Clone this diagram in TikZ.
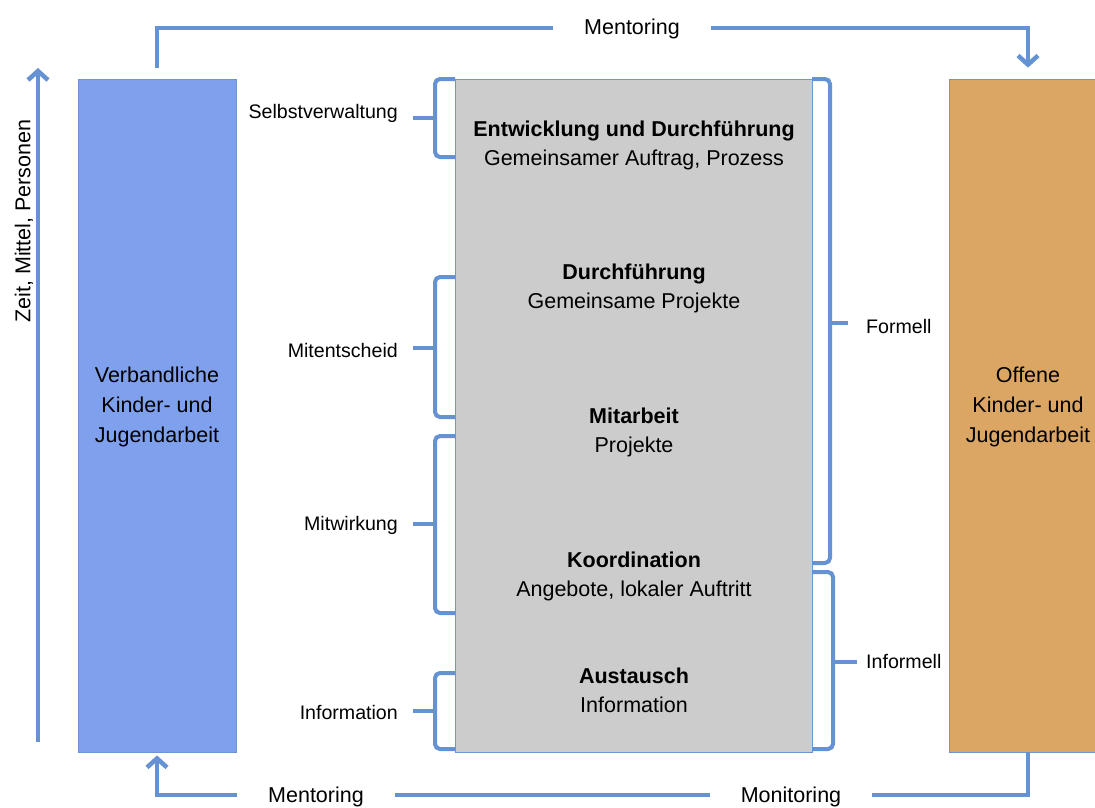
\documentclass[tikz,border=0pt]{standalone}
\usepackage{fontspec}
\setmainfont{Liberation Sans}
\usetikzlibrary{arrows.meta}
\definecolor{lnblue}{RGB}{100,146,210}
\definecolor{boxblue}{RGB}{127,160,236}
\definecolor{boxorange}{RGB}{219,165,99}
\definecolor{boxgray}{RGB}{204,204,204}
\definecolor{edgeblue}{RGB}{110,150,215}
\begin{document}
\begin{tikzpicture}[x=1pt,y=-1pt,
  conn/.style={draw=lnblue, line width=4.5pt},
  barbend/.style={-{Straight Barb[length=9pt,width=20pt]}},
  bracepath/.style={draw=lnblue, line width=4pt, rounded corners=5pt},
  col/.style={draw=edgeblue, line width=0.8pt, minimum height=673pt, inner sep=0pt},
  big/.style={font=\fontsize{21.5}{30}\selectfont, align=center, text=black, inner sep=0pt},
  blk/.style={font=\fontsize{21.5}{29}\selectfont, align=center, text=black, inner sep=0pt},
  small/.style={font=\fontsize{19.6}{24}\selectfont, text=black, inner sep=0pt},
  onl/.style={big, fill=white, inner xsep=31pt, inner ysep=3pt}
]
\clip (0,0) rectangle (1095,807);
\useasboundingbox (0,0) rectangle (1095,807);
\fill[white] (0,0) rectangle (1095,807);

% boxes
\node[col, fill=boxblue, minimum width=158pt] (lb) at (157,415.5) {};
\node[col, fill=boxgray, minimum width=357pt] (cb) at (633.5,415.5) {};
\node[col, fill=boxorange, minimum width=158pt] (rb) at (1028,415.5) {};

\node[big] (lbt) at (157,407) {Verbandliche\\Kinder- und\\Jugendarbeit};
\node[big] (rbt) at (1028,407) {Offene\\Kinder- und\\Jugendarbeit};

% centre texts
\node[blk] (e1) at (634,145.5) {\textbf{Entwicklung und Durchführung}\\Gemeinsamer Auftrag, Prozess};
\node[blk] (e2) at (634,288.5) {\textbf{Durchführung}\\Gemeinsame Projekte};
\node[blk] (e3) at (634,432.5) {\textbf{Mitarbeit}\\Projekte};
\node[blk] (e4) at (634,576) {\textbf{Koordination}\\Angebote, lokaler Auftritt};
\node[blk] (e5) at (634,690.5) {\textbf{Austausch}\\Information};

% left braces
\draw[bracepath] (455,79) -- (435,79) -- (435,157) -- (455,157);
\draw[bracepath] (435,118) -- (413,118);
\draw[bracepath] (455,277) -- (435,277) -- (435,417) -- (455,417);
\draw[bracepath] (435,348) -- (413,348);
\draw[bracepath] (455,436) -- (435,436) -- (435,613) -- (455,613);
\draw[bracepath] (435,524) -- (413,524);
\draw[bracepath] (455,673) -- (435,673) -- (435,749) -- (455,749);
\draw[bracepath] (435,711) -- (413,711);

% right braces
\draw[bracepath] (812,79) -- (830,79) -- (830,563) -- (812,563);
\draw[bracepath] (830,323) -- (848,323);
\draw[bracepath] (812,572) -- (833,572) -- (833,749) -- (812,749);
\draw[bracepath] (833,662) -- (857,662);

% brace labels
\node[small, anchor=east] (s1) at (398,113) {Selbstverwaltung};
\node[small, anchor=east] (s2) at (398,350) {Mitentscheid};
\node[small, anchor=east] (s3) at (398,525) {Mitwirkung};
\node[small, anchor=east] (s4) at (398,712) {Information};
\node[small, anchor=west] (f1) at (866,326) {Formell};
\node[small, anchor=west] (f2) at (866,661) {Informell};

% top connector
\coordinate (tl) at (0,28);
\coordinate (bl) at (0,795);
\draw[conn, barbend, shorten <=11pt, shorten >=11pt]
  (lb.north) -- (lb.north |- tl) -- (rb.north |- tl) -- (rb.north);
\node[onl] (m1) at (632,29) {Mentoring};

% bottom connector
\draw[conn, barbend, shorten >=3pt]
  (rb.south) -- (rb.south |- bl) -- (lb.south |- bl) -- (lb.south);
\node[onl] (m2) at (316,797) {Mentoring};
\node[onl] (m3) at (791,797) {Monitoring};

% left axis
\coordinate (ya0) at (38,742);
\coordinate (ya1) at (38,68);
\draw[conn, barbend] (ya0) -- (ya1);
\node[big, rotate=90] (ax) at (24,221) {Zeit, Mittel, Personen};
\end{tikzpicture}
\end{document}
